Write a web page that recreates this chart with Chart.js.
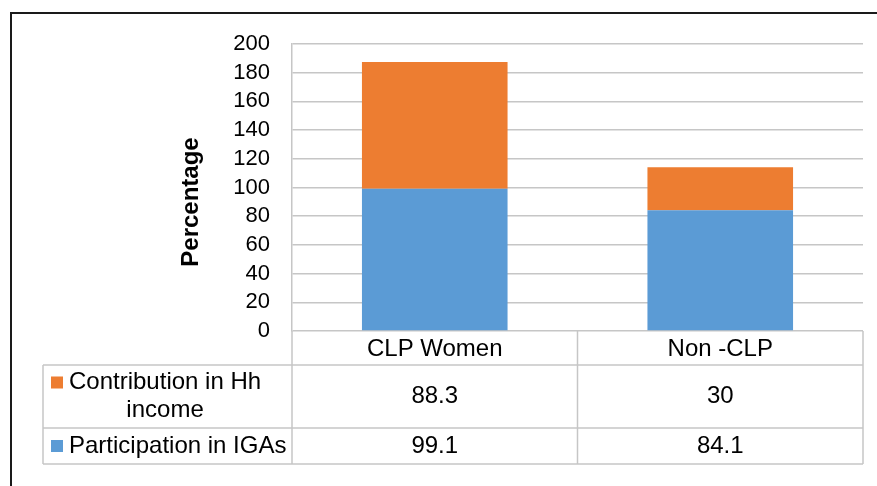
<!DOCTYPE html>
<html>
<head>
<meta charset="utf-8">
<script src="https://cdn.jsdelivr.net/npm/chart.js@4/dist/chart.umd.min.js"></script>
<style>
  html, body { margin: 0; padding: 0; background: #fff; }
  canvas { display: block; }
</style>
</head>
<body>
<canvas id="chart" width="877" height="486"></canvas>
<script>
// chart data
const categories = ['CLP Women', 'Non -CLP'];
const seriesNames = ['Participation in IGAs', 'Contribution in Hh income'];
const participation = [99.1, 84.1];
const contribution = [88.3, 30];
const seriesColors = ['#5B9BD5', '#ED7D31'];
const axisTitle = 'Percentage';
const yMin = 0, yMax = 200, yStep = 20;

const FONT = '"Liberation Sans", Arial, sans-serif';
const GRID = '#c6c6c6';

// draws the frame, the axis title and the data table under the plot
const tablePlugin = {
  id: 'dataTable',
  afterDraw(chart) {
    const ctx = chart.ctx;
    const area = chart.chartArea;
    const x = chart.scales.x;
    const datasets = chart.data.datasets;

    // outer frame (top + left edges)
    ctx.save();
    ctx.strokeStyle = '#1a1a1a';
    ctx.lineWidth = 2;
    ctx.beginPath();
    ctx.moveTo(11, 486);
    ctx.lineTo(11, 13);
    ctx.lineTo(877, 13);
    ctx.stroke();
    ctx.restore();

    // axis title
    ctx.save();
    ctx.translate(191, 202);
    ctx.rotate(-Math.PI / 2);
    ctx.font = 'bold 24px ' + FONT;
    ctx.fillStyle = '#000';
    ctx.textAlign = 'center';
    ctx.textBaseline = 'middle';
    ctx.fillText(axisTitle, 0, 0);
    ctx.restore();

    // table rows: header, then series from top of the stack down
    const top = area.bottom;
    const rowLines = [top, top + 34, top + 97, top + 133];
    const tableLeft = 43;
    const colMid = x.getPixelForValue(0.5);

    ctx.save();
    ctx.strokeStyle = GRID;
    ctx.lineWidth = 1.5;
    ctx.beginPath();
    for (let i = 1; i < rowLines.length; i++) {
      ctx.moveTo(tableLeft, rowLines[i]);
      ctx.lineTo(area.right, rowLines[i]);
    }
    ctx.moveTo(tableLeft, rowLines[1]);
    ctx.lineTo(tableLeft, rowLines[3]);
    [area.left, colMid, area.right].forEach(px => {
      ctx.moveTo(px, rowLines[0]);
      ctx.lineTo(px, rowLines[3]);
    });
    ctx.stroke();

    ctx.font = '24px ' + FONT;
    ctx.fillStyle = '#000';
    ctx.textAlign = 'center';
    ctx.textBaseline = 'middle';
    const headerY = (rowLines[0] + rowLines[1]) / 2 + 1;
    categories.forEach((c, i) => ctx.fillText(c, x.getPixelForValue(i), headerY));

    const order = [1, 0];
    order.forEach((di, r) => {
      const y0 = rowLines[r + 1], y1 = rowLines[r + 2];
      const cy = (y0 + y1) / 2;
      const ds = datasets[di];
      ds.data.forEach((v, i) => ctx.fillText(String(v), x.getPixelForValue(i), cy));

      // wrap legend label
      const maxW = 218;
      const words = ds.label.split(' ');
      const lines = [];
      let line = '';
      words.forEach(w => {
        const test = line ? line + ' ' + w : w;
        if (ctx.measureText(test).width > maxW && line) { lines.push(line); line = w; }
        else line = test;
      });
      lines.push(line);
      const blockW = Math.max(...lines.map(l => ctx.measureText(l).width));
      const lh = 28;
      const firstY = cy - (lines.length - 1) * lh / 2;
      lines.forEach((l, k) => ctx.fillText(l, 69 + blockW / 2, firstY + k * lh));

      ctx.fillStyle = ds.backgroundColor;
      ctx.fillRect(51, firstY - 6, 12, 12);
      ctx.fillStyle = '#000';
    });
    ctx.restore();
  }
};

new Chart(document.getElementById('chart'), {
  type: 'bar',
  data: {
    labels: categories,
    datasets: [
      { label: seriesNames[0], data: participation, backgroundColor: seriesColors[0] },
      { label: seriesNames[1], data: contribution, backgroundColor: seriesColors[1] }
    ]
  },
  options: {
    responsive: false,
    animation: false,
    layout: { padding: { left: 0, top: 44, right: 14, bottom: 155 } },
    datasets: { bar: { categoryPercentage: 1, barPercentage: 0.51 } },
    plugins: { legend: { display: false }, tooltip: { enabled: false } },
    scales: {
      x: { stacked: true, display: false },
      y: {
        stacked: true,
        min: yMin,
        max: yMax,
        ticks: { stepSize: yStep, autoSkip: false, padding: 22, color: '#000', font: { family: FONT, size: 22 } },
        grid: { color: GRID, lineWidth: 1.5, drawTicks: false },
        border: { display: true, color: GRID, width: 1.5 },
        afterFit(scale) { scale.width = 292; }
      }
    }
  },
  plugins: [tablePlugin]
});
</script>
</body>
</html>
